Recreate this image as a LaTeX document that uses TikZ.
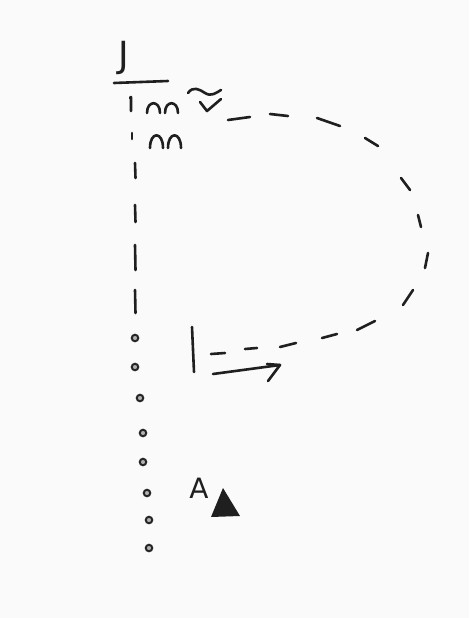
\documentclass[tikz,border=0pt]{standalone}
\usepackage{fontspec}
\setmainfont{DejaVu Sans}
\begin{document}
\begin{tikzpicture}[x=1pt,y=-1pt,
  ink/.style={line width=2.6pt,line cap=round,line join=round,draw=black!88},
  lbl/.style={inner sep=0pt,text=black!88},
  dot/.style={circle,draw=black!85,line width=2pt,fill=black!30,minimum size=6.5pt,inner sep=0pt}]
\useasboundingbox[fill=black!2] (0,0) rectangle (469,618);
% label J with underline
\node[lbl,font=\fontsize{36}{36}\selectfont,anchor=south] (J) at (124,75) {J};
\coordinate (uA) at (114,83);
\coordinate (uB) at (168,81);
\draw[ink] (uA) -- (uB);
% first row marks
\draw[ink] (130,98) -- (131,97) -- (131,111);
\draw[ink] (132,133) -- (132,139);
\foreach \x/\y/\h in {147/113/10, 165/113/10, 150/148/13, 168/148/13}{
  \draw[ink] (\x,\y) .. controls (\x,\y-1.3*\h) and (\x+13,\y-1.3*\h) .. (\x+13,\y);
}
% curly arrow
\draw[ink] (188,93) .. controls (193,86) and (199,89) .. (205,93) .. controls (211,97) and (216,93) .. (221,90);
\draw[ink] (200,102) -- (207,111) -- (221,99);
% vertical ticks
\foreach \ya/\yb in {163/178, 205/222, 245/270, 290/313}{
  \draw[ink] (135,\ya) -- (135.5,\yb);
}
% dots
\foreach \x/\y [count=\i] in {135/338, 135/367, 140/398, 143/433, 143/462, 147/493, 149/520, 149/548}{
  \node[dot] (d\i) at (\x,\y) {};
}
% dashed loop drawn as strokes
\foreach \xa/\ya/\xb/\yb in {228/120/250/117, 270/114/288/116, 317/118/340/126, 365/138/378/146,
  401/178/410/190, 418/215/421/227, 428/253/425/268, 413/290/403/305, 375/321/357/330,
  337/334/322/338, 296/343/280/347, 257/348/245/349, 225/353/211/354}{
  \draw[ink] (\xa,\ya) -- (\xb,\yb);
}
% bar and arrow
\draw[ink] (192,327) -- (194,372);
\coordinate (aS) at (213,374);
\coordinate (aT) at (280,365);
\draw[ink] (aS) -- (aT);
\draw[ink] (267,364) -- (aT) -- (268,381);
% A and triangle
\node[lbl,font=\fontsize{28}{28}\selectfont,anchor=south] (A) at (199,499) {A};
\coordinate (t1) at (223,488);
\coordinate (t2) at (211,517);
\coordinate (t3) at (240,516);
\fill[black!88] (t1) -- (t2) -- (t3) -- cycle;
\end{tikzpicture}
\end{document}
